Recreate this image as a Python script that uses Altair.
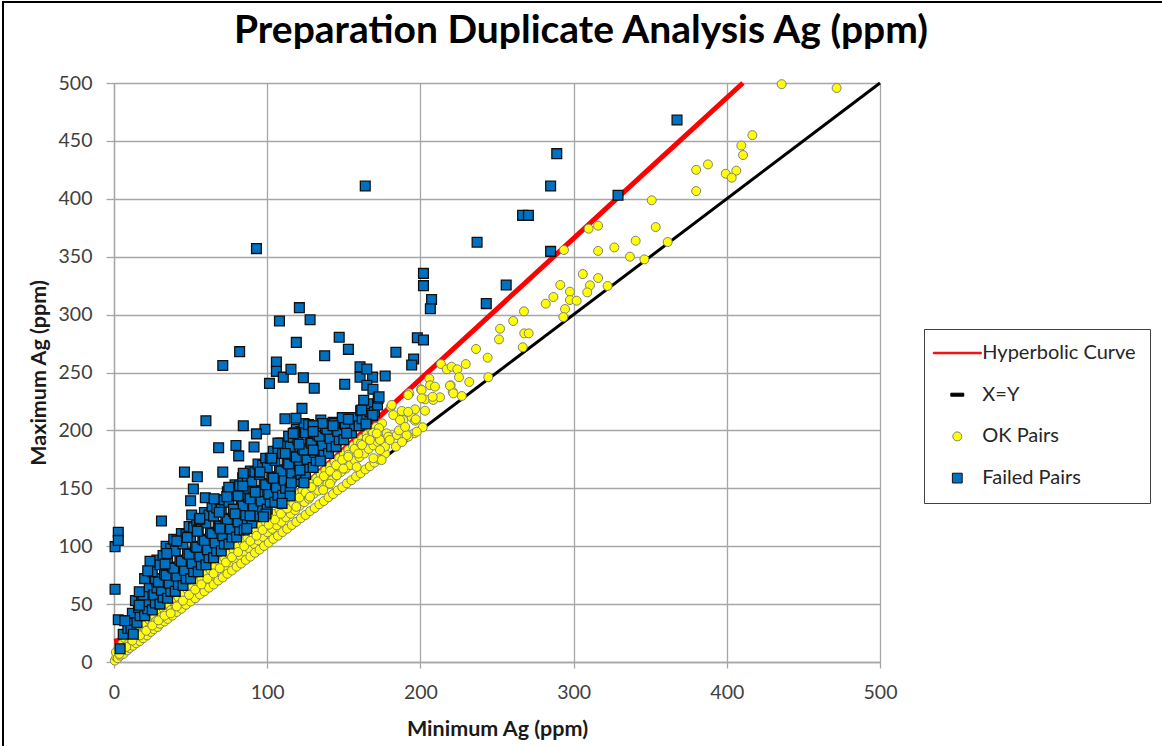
import altair as alt
import pandas as pd

# ---------------- data ----------------
series_names = ["Hyperbolic Curve", "X=Y", "OK Pairs", "Failed Pairs"]
series_fill = ["#FF0000", "#000000", "#FFFF00", "#0070C0"]
series_stroke = ["#FF0000", "#000000", "#808080", "#111111"]
series_shape = [
    "M-2.667,-0.083H2.667V0.083H-2.667Z",
    "M-0.72,-0.167H0.72V0.167H-0.72Z",
    "M-0.5,0A0.5,0.5,0,1,1,0.5,0A0.5,0.5,0,1,1,-0.5,0Z",
    "M-0.544,-0.544H0.544V0.544H-0.544Z",
]

x_ticks = [0, 100, 200, 300, 400, 500]
y_ticks = [0, 50, 100, 150, 200, 250, 300, 350, 400, 450, 500]

curve_x = [0, 5, 10, 20, 30, 50, 75, 100, 150, 200, 250, 300, 350, 410.5]
curve_y = [18, 19, 21.7, 30.3, 40.7, 63.5, 93, 123, 183.6, 244.3, 305, 365.8, 426.7, 500]

diag_x = [0, 500]
diag_y = [0, 500]

ok_dense = [
    [0.5, 1.2], [1.5, 4], [1.2, 8.5], [2.5, 3.2], [3, 12], [4, 5.5], [4.6, 9.2], [5.5, 16], [6.2, 7], [7, 12.5],
    [7.4, 20], [8.6, 10], [9, 15.5], [10.2, 12], [10.6, 22], [11.5, 17], [12.3, 14], [13, 24.5], [13.6, 19],
    [14.5, 16.2], [15.2, 27.5], [16, 21], [16.8, 18], [17.5, 30.5], [18.2, 25], [19, 20.5], [20, 29], [20.5, 33.5],
    [21.6, 23], [22.2, 28], [23, 36.5], [24, 26], [25.2, 33], [26, 28.3], [26.6, 39.5], [27.5, 35.5], [28.5, 30.2],
    [29.2, 43], [30, 33], [31, 39], [32.2, 46.5], [33, 35], [34, 42], [35, 37.2], [36, 49.5], [37.3, 45], [38, 40],
    [39, 52.5], [40.2, 48], [41, 43.2], [42, 56], [43.2, 50], [44, 46], [45, 59.5], [46.3, 52], [47, 49.4],
    [48, 62.5], [49.2, 56], [50, 52.2], [51, 65.5], [52.3, 59], [53, 55], [54, 69], [55.2, 62], [56, 58.3],
    [57, 72.5], [58.2, 65], [59, 61], [60, 76.5], [61.3, 69], [62, 64.2], [63, 79.5], [64.2, 72], [65, 67],
    [66, 83], [67.3, 75], [68, 70.3], [69, 86.5], [70.2, 78], [71, 73], [72, 90], [73.3, 82], [74, 76.2],
    [75, 93.5], [76.2, 85], [77, 79], [78, 97], [79.3, 88], [80, 82.3], [81, 100.5], [82.2, 92], [83, 85],
    [84, 104], [85.3, 95], [86, 88.2], [87, 107.5], [88.2, 98], [89, 91], [90, 111], [91.3, 102], [92, 94.3],
    [93, 114.5], [94.2, 105], [95, 97], [96, 118], [97.3, 108], [98, 100.2], [99, 121], [100.2, 112], [101, 103],
    [102, 124.5], [103.3, 115], [104, 106.3], [105, 128], [106.2, 118], [107, 109], [108, 131], [109.3, 121],
    [110, 112.2], [111, 134.5], [112.2, 125], [113, 115], [114, 138], [115.3, 128], [116, 118.3], [117, 141.5],
    [118.2, 131], [119, 121], [120, 145], [121.3, 135], [122, 124.2], [123, 148], [124.2, 138], [125, 127],
    [126, 151.5], [127.3, 141], [128, 130.3], [129, 155], [130.2, 145], [131, 133], [132, 158.5], [133.3, 148],
    [134, 136.2], [135, 162], [136.2, 151], [137, 139], [138, 165.5], [139.3, 154], [140, 142.3], [141, 169],
    [142.2, 157], [143, 145], [144, 172.5], [145.3, 161], [146, 148.2], [147, 176], [148.2, 164], [149, 151],
    [150, 179.5], [151.3, 167], [152, 154.3], [153, 183], [154.2, 170], [155, 157], [156, 186.5], [157.3, 174],
    [158, 160.2], [159, 190], [160.2, 177], [161, 163], [162, 193], [163.3, 180], [164, 166.3], [165, 196.5],
    [166.2, 184], [167, 169], [168, 200], [169.3, 187], [170, 172.2], [171, 203], [172.2, 190], [173, 175],
    [175, 206], [176.3, 193], [177, 180],
]

ok_band = [
    [3.5, 7], [8, 13], [12, 18.5], [17, 23], [21, 27], [25, 31.5], [29, 36], [33, 40], [37, 42], [41, 48],
    [45, 53], [49, 58], [53, 62.5], [57, 67], [61, 72], [65, 76.5], [69, 81], [73, 86], [77, 90.5], [81, 95],
    [85, 100], [89, 104.5], [93, 109], [97, 114], [101, 118.5], [105, 123], [109, 128], [113, 132.5], [117, 137],
    [121, 142], [125, 146.5], [129, 151], [133, 156], [137, 160.5], [141, 165], [145, 170], [149, 174.5],
    [153, 179], [157, 184], [161, 188.5], [165, 193], [169, 198], [173, 202],
]

ok_scatter = [
    [435.8, 499], [471.7, 495.7], [416.7, 455], [409.5, 446], [410.6, 437.8], [380, 425], [387.7, 429.7],
    [399.3, 421.6], [406.2, 424.3], [403.2, 418.2], [380, 406.7], [351, 398.7], [353.6, 375.6], [309.8, 374.2],
    [316, 376.8], [340.5, 363.8], [361.4, 362.7], [293.7, 355.8], [316, 355], [326.6, 358], [336.8, 350],
    [346.2, 347.7], [306, 335], [316, 331.6], [310.7, 325.3], [291.3, 325.6], [322.2, 324.7], [297.6, 319.8],
    [308.9, 319.2], [286.8, 315.2], [281.8, 309.4], [297.6, 312.6], [302, 312], [294.4, 304.8], [293.3, 297.9],
    [267.6, 302.8], [260.6, 294.5], [252, 287.8], [251.3, 278.6], [267.8, 283.8], [270.7, 283.8], [236.3, 270.3],
    [266.8, 271.8], [243.9, 262.8], [244.3, 245.9], [213.4, 257.3], [217.2, 252.8], [220.4, 255], [224.1, 252.8],
    [229.6, 257.3], [231.9, 241.8], [225.2, 245.9], [219.8, 239], [221.1, 233.4], [227, 229.7], [205.8, 244.7],
    [206.3, 239], [209.5, 237.8], [200.4, 235.5], [192.8, 232], [203, 226.8], [208.4, 226.3], [212.8, 228.6],
    [180.8, 220.5], [187.8, 216.8], [182.3, 213.3], [196.5, 218.2], [203, 217], [188.8, 209], [194.3, 211.3],
    [196.5, 208.4], [201.5, 202.7], [196, 197.5], [192.1, 194.6], [178, 197.5], [184.5, 196], [179, 194.6],
    [174.7, 174.4], [176.9, 186], [173.6, 191.7], [219.3, 238.6], [208, 229], [200.8, 234.9],
    [192, 230.5], [200.8, 227.7], [221.5, 232], [181.3, 222], [186.7, 209], [192, 216], [197, 209.6],
    [197.6, 198.9], [191, 196], [180, 191.7], [171.5, 197.4], [167, 191.7], [173.6, 183], [169.3, 176],
    [159.5, 180], [152.9, 177.3], [158.4, 168.4], [149.7, 167], [145.4, 161.3], [141, 154], [136.6, 148.5],
    [127.9, 142.7], [119, 134], [161.9, 187.4], [184, 186], [188, 190], [186, 200], [190, 203],
]

fail_dense = [
    [6, 24], [9, 29], [11, 29], [13, 36], [12, 42], [15, 34], [17, 40], [16, 47], [14, 53], [18, 58],
    [20, 40], [22, 46], [21, 52], [19, 58], [23, 65], [20, 72], [24, 80],
    [25, 45], [27, 51], [26, 58], [28, 64], [27, 72], [25, 78], [28, 88],
    [30, 50], [32, 56], [31, 62], [29, 69], [33, 76], [30, 84], [32, 92], [34, 100],
    [35, 55], [37, 61], [36, 68], [34, 75], [38, 82], [35, 90], [37, 98], [39, 106],
    [40, 61], [42, 67], [41, 74], [39, 81], [43, 88], [40, 96], [42, 104], [44, 111],
    [45, 66], [47, 72], [46, 79], [44, 87], [48, 94], [45, 102], [47, 110], [49, 117],
    [50, 72], [52, 78], [51, 85], [49, 93], [53, 100], [50, 108], [52, 116], [54, 122],
    [55, 78], [57, 84], [56, 91], [54, 99], [58, 106], [55, 114], [57, 121], [59, 129],
    [60, 84], [62, 90], [61, 97], [59, 105], [63, 112], [60, 120], [62, 127], [64, 134],
    [65, 90], [67, 96], [66, 103], [64, 111], [68, 118], [65, 126], [67, 133], [69, 140],
    [70, 96], [72, 102], [71, 109], [69, 117], [73, 124], [70, 132], [72, 140], [74, 147],
    [75, 102], [77, 108], [76, 115], [74, 123], [78, 130], [75, 138], [77, 146], [79, 153],
    [80, 108], [82, 114], [81, 121], [79, 129], [83, 136], [80, 144], [82, 152], [84, 159],
    [85, 114], [87, 120], [86, 127], [84, 135], [88, 142], [85, 150], [87, 158], [89, 165],
    [90, 120], [92, 126], [91, 133], [89, 141], [93, 148], [90, 156], [92, 164], [94, 171],
    [95, 126], [97, 132], [96, 139], [94, 147], [98, 154], [95, 162], [97, 170], [99, 176],
    [100, 132], [102, 138], [101, 145], [99, 153], [103, 160], [100, 168], [102, 176], [104, 182],
    [105, 138], [107, 144], [106, 151], [104, 159], [108, 166], [105, 174], [107, 182], [109, 189],
    [110, 144], [112, 150], [111, 157], [109, 165], [113, 172], [110, 180], [112, 188], [114, 195],
    [115, 150], [117, 156], [116, 163], [114, 171], [118, 178], [115, 186], [117, 194], [119, 201],
    [120, 156], [122, 162], [121, 169], [119, 177], [123, 184], [120, 192], [122, 199], [124, 206],
    [125, 162], [127, 168], [126, 175], [124, 183], [128, 190], [125, 198], [127, 205],
    [130, 168], [132, 174], [131, 181], [129, 189], [133, 196], [130, 204],
    [135, 174], [137, 180], [136, 187], [134, 195], [138, 202], [135, 209],
    [140, 180], [142, 186], [141, 193], [139, 201], [143, 207],
    [145, 186], [147, 192], [146, 199], [144, 206],
    [150, 192], [152, 198], [151, 205], [149, 211],
    [155, 198], [157, 204], [156, 211],
    [160, 204], [162, 210], [161, 217],
    [165, 210], [167, 216], [166, 223],
    [170, 216], [172, 222],
]

fail_scatter = [
    [93, 357], [164, 411], [121, 306], [108, 294.5], [128, 295.5], [119, 276], [147, 280.5], [153, 270],
    [82, 268], [137.5, 264.5], [184, 267.5], [367.5, 468], [289, 439], [285, 411], [329, 403], [266.7, 385.7],
    [270.5, 385.7], [237, 362.5], [285, 354.6], [202, 335.6], [202, 325], [256, 325.6], [207.3, 313],
    [206.5, 305], [243, 309.5], [198, 280], [202, 278], [195.6, 261.7], [177, 247], [194.3, 256.5], [71, 256],
    [101.5, 240.6], [106, 259], [106, 251], [110.5, 246], [115.5, 252.8], [123.6, 245.5], [130.7, 236.4],
    [150.6, 239.8], [160.6, 255], [160.6, 246], [168.8, 246], [165, 253], [165, 239], [169, 235.5], [163, 226],
    [172.5, 227.7], [161.7, 217.6], [168.8, 213], [164.5, 205.5], [173, 229], [122.7, 219], [111.6, 210],
    [118.8, 210.5], [136, 206], [143, 204], [153, 209.6], [84.4, 204], [98.5, 201], [93, 197], [118, 198],
    [130, 204], [151.8, 197.5], [60, 208.4], [68.3, 185], [79.6, 187], [81.4, 178], [91.4, 185.6], [117, 197.4],
    [107, 189], [120.8, 188], [130, 199], [130, 183], [111.8, 180], [103, 176], [134.7, 173.6], [46, 164],
    [54.4, 160], [71, 164], [84.4, 163], [95.3, 164], [51.8, 149.4], [50, 139.3], [59.6, 141.9], [65.3, 141],
    [74.9, 150.9], [84, 152], [92.2, 146.6], [104, 158.6], [115.7, 154.8], [124, 154.8], [121.4, 165.5],
    [115, 143.4], [109.7, 137], [73.6, 142.8], [81, 143.4], [31, 121.8], [50.7, 127], [55.7, 123], [68.7, 129.3],
    [77.9, 132], [88.8, 126.3], [99.2, 127.8], [0.7, 99.6], [2.8, 112], [2.8, 105], [0.7, 62.8], [2.8, 36.5],
    [7, 35.7], [4, 11.5], [23.5, 87], [22, 78.8], [33.3, 84.6], [34.4, 93.6], [40.9, 104.6], [47.8, 107.6],
    [56, 124], [54.4, 113], [69.2, 115.2], [79, 128], [86.6, 115.3], [97.5, 125.5], [12.6, 24], [16.5, 49],
    [16.5, 60.7],
]

# ---------------- tables ----------------
curve_df = pd.DataFrame({"x": curve_x, "y": curve_y})
diag_df = pd.DataFrame({"x": diag_x, "y": diag_y})
ok_df = pd.DataFrame(ok_dense + ok_band + ok_scatter, columns=["x", "y"])
ok_df["series"] = series_names[2]
fail_df = pd.DataFrame(fail_dense + fail_scatter, columns=["x", "y"])
fail_df["series"] = series_names[3]

GRID = "#a6a6a6"
FONT = "Lato"
MARK_SIZE = 324

x_enc = alt.X(
    "x:Q",
    scale=alt.Scale(domain=[0, 500], nice=False, zero=False),
    axis=alt.Axis(
        values=x_ticks, title="Minimum Ag (ppm)", grid=True, gridColor=GRID, gridWidth=1.3,
        domainColor=GRID, domainWidth=1.3, tickColor=GRID, tickWidth=1.3, tickSize=6,
        labelFont=FONT, labelFontSize=19.5, labelColor="#404040", labelPadding=15, labelFlush=False,
        titleFont=FONT, titleFontSize=21.5, titleFontWeight="bold", titleColor="#1a1a1a",
        titleBaseline="top", titleY=56,
    ),
)
y_enc = alt.Y(
    "y:Q",
    scale=alt.Scale(domain=[0, 500], nice=False, zero=False),
    axis=alt.Axis(
        values=y_ticks, title="Maximum Ag (ppm)", grid=True, gridColor=GRID, gridWidth=1.3,
        domainColor=GRID, domainWidth=1.3, tickColor=GRID, tickWidth=1.3, tickSize=8,
        labelFont=FONT, labelFontSize=19.5, labelColor="#404040", labelPadding=14,
        titleFont=FONT, titleFontSize=21.5, titleFontWeight="bold", titleColor="#1a1a1a",
        titleBaseline="alphabetic", titleX=-69,
    ),
)

fill_scale = alt.Scale(domain=series_names, range=series_fill)
stroke_scale = alt.Scale(domain=series_names, range=series_stroke)
shape_scale = alt.Scale(domain=series_names, range=series_shape)

legend = alt.Legend(
    title=None, orient="none", legendX=810, legendY=246, padding=14,
    strokeColor="#404040", fillColor="white", labelFont=FONT, labelFontSize=20,
    labelColor="#262626", labelOffset=15, rowPadding=21.7, symbolSize=MARK_SIZE,
    symbolOffset=9.3, symbolStrokeWidth=1, symbolOpacity=1,
)

frame = alt.Chart(alt.Data(values=[{"f": 1}])).mark_rect(
    fillOpacity=0, stroke="#000000", strokeWidth=2
).encode(
    x=alt.value(-111), x2=alt.value(1200), y=alt.value(-81), y2=alt.value(720)
)

curve = alt.Chart(curve_df).mark_line(color="#FF0000", strokeWidth=5).encode(x=x_enc, y=y_enc)
diag = alt.Chart(diag_df).mark_line(color="#000000", strokeWidth=3).encode(x=x_enc, y=y_enc)


def point_layer(df, stroke_width):
    return alt.Chart(df).mark_point(
        filled=True, size=MARK_SIZE, strokeWidth=stroke_width, opacity=1
    ).encode(
        x=x_enc,
        y=y_enc,
        fill=alt.Fill("series:N", scale=fill_scale, legend=legend),
        stroke=alt.Stroke("series:N", scale=stroke_scale, legend=legend),
        shape=alt.Shape("series:N", scale=shape_scale, legend=legend),
    )


ok = point_layer(ok_df, 1)
fail = point_layer(fail_df, 1.3)

chart = alt.layer(frame, curve, diag, ok, fail).properties(
    width=766,
    height=579,
    padding={"left": 114, "top": 83, "right": 282, "bottom": 84},
    autosize=alt.AutoSizeParams(type="none"),
    title=alt.TitleParams(
        text="Preparation Duplicate Analysis Ag (ppm)", font=FONT, fontSize=39,
        fontWeight="bold", color="#000000", anchor="middle", dx=84, offset=-49.5,
    ),
).configure_view(stroke=None).configure(background="white")

chart.save("out.html", embed_options={"renderer": "svg", "actions": False})
